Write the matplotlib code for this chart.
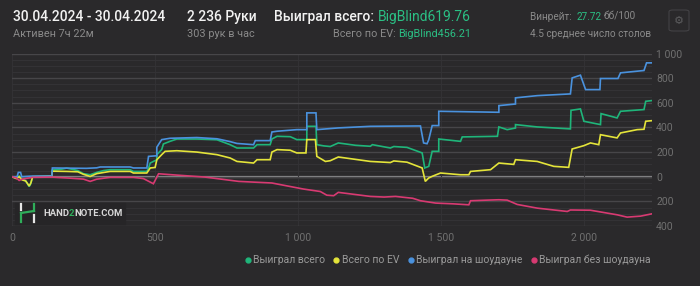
import matplotlib.pyplot as plt
from matplotlib.lines import Line2D
from matplotlib.patches import FancyBboxPatch, Rectangle
from matplotlib.ticker import MultipleLocator, FuncFormatter

# --- data (hand number, big blinds) ---
total_x = [0, 15, 25, 35, 47, 60, 65, 72, 139, 141, 175, 191, 230, 249, 273, 296, 320, 343, 413, 424,
           471, 477, 483, 506, 506, 523, 529, 552, 576, 646, 716, 762, 786, 844, 856, 902, 908, 926,
           972, 995, 1030, 1030, 1062, 1065, 1090, 1112, 1140, 1200, 1252, 1259, 1322, 1334, 1380,
           1433, 1442, 1456, 1468, 1491, 1491, 1567, 1573, 1696, 1701, 1730, 1759, 1759, 1835, 1951,
           1953, 1986, 1998, 2056, 2058, 2114, 2126, 2208, 2214, 2236]
total_y = [0, -10, 5, -20, -30, -80, -60, 0, 5, 55, 62, 70, 50, 25, 16, 35, 50, 57, 57, 43,
           43, 70, 111, 138, 179, 220, 266, 287, 306, 306, 300, 260, 233, 233, 260, 260, 306, 328,
           325, 301, 301, 409, 409, 260, 250, 245, 274, 255, 247, 260, 233, 245, 238,
           193, 71, 84, 206, 206, 306, 287, 323, 328, 404, 382, 395, 423, 404, 388,
           539, 550, 450, 423, 512, 477, 531, 545, 612, 618]

ev_x = [0, 15, 25, 35, 48, 60, 66, 72, 139, 141, 191, 230, 249, 273, 296, 343, 413, 424, 471, 477,
        483, 500, 506, 523, 535, 576, 646, 716, 762, 786, 844, 856, 902, 908, 926, 972, 995, 1027,
        1030, 1060, 1065, 1095, 1112, 1140, 1252, 1322, 1334, 1380, 1433, 1444, 1456, 1468, 1497,
        1567, 1596, 1602, 1672, 1701, 1753, 1759, 1835, 1893, 1945, 1957, 1998, 2021, 2050, 2056,
        2114, 2126, 2184, 2208, 2214, 2236]
ev_y = [0, -15, 0, -25, -35, -75, -50, 0, 5, 45, 43, 40, 20, 2, 25, 43, 43, 30, 30, 50,
        71, 75, 138, 179, 206, 211, 200, 179, 152, 124, 111, 138, 138, 200, 220, 215, 193, 193,
        301, 301, 165, 124, 130, 160, 124, 115, 128, 118, 71, -38, -10, 3, 30,
        16, 16, 43, 57, 111, 100, 138, 124, 84, 76, 225, 252, 274, 260, 341,
        315, 355, 382, 385, 450, 455]

sd_x = [0, 18, 22, 30, 34, 70, 139, 141, 260, 296, 308, 413, 424, 471, 477, 506, 506, 523, 552,
        646, 716, 762, 786, 844, 850, 902, 908, 926, 995, 1030, 1030, 1062, 1065, 1140, 1252, 1427,
        1438, 1450, 1456, 1468, 1491, 1491, 1701, 1701, 1759, 1759, 1835, 1951, 1957, 1986, 2004,
        2054, 2056, 2117, 2126, 2208, 2217, 2236]
sd_y = [0, 0, 35, 35, 0, 5, 5, 71, 68, 72, 79, 79, 71, 71, 165, 170, 240, 301, 312,
        318, 308, 285, 270, 260, 293, 293, 363, 369, 382, 382, 518, 518, 382, 396, 409, 412,
        274, 268, 300, 415, 415, 531, 523, 577, 590, 640, 658, 672, 802, 824, 707,
        707, 797, 797, 843, 862, 924, 924]

nsd_x = [0, 15, 25, 35, 60, 72, 139, 191, 249, 273, 296, 343, 424, 459, 494, 512, 564, 675, 792,
         908, 1018, 1077, 1100, 1124, 1140, 1252, 1300, 1340, 1400, 1427, 1480, 1540, 1596, 1602,
         1660, 1701, 1730, 1765, 1835, 1940, 1951, 2021, 2114, 2149, 2196, 2236]
nsd_y = [0, -10, -30, -20, -10, -5, -3, -10, -19, -38, -20, -5, -5, -15, -57, 24, 15, -3, -38,
         -51, -100, -120, -150, -154, -127, -160, -165, -160, -175, -195, -214, -220, -228, -195,
         -190, -187, -190, -225, -255, -282, -270, -272, -309, -328, -320, -301]

series = [
    ("Выиграл всего", total_x, total_y, "#1fb57a"),
    ("Всего по EV", ev_x, ev_y, "#e4e43a"),
    ("Выиграл на шоудауне", sd_x, sd_y, "#4a92de"),
    ("Выиграл без шоудауна", nsd_x, nsd_y, "#d83a72"),
]

BG = "#2a292b"
GREEN = "#2bbf84"
plt.rcParams["font.family"] = ["Roboto", "DejaVu Sans"]

W, H = 700, 286
fig = plt.figure(figsize=(W / 100, H / 100), dpi=100, facecolor=BG)
renderer = fig.canvas.get_renderer()


def fx(px):
    return px / W


def fy(py):
    return 1 - py / H


def chain(x, y, parts, gap=0):
    # draw text pieces one after another on a line, starting at pixel x
    for s, kw in parts:
        t = fig.text(fx(x), fy(y), s, va="center", **kw)
        x = t.get_window_extent(renderer).x1 + gap
    return x


ax = fig.add_axes([fx(12), fy(226), fx(652) - fx(12), fy(53.5) - fy(226)])
ax.set_facecolor(BG)
ax.set_xlim(0, 2236)
ax.set_ylim(-400, 1000)

ax.yaxis.set_major_locator(MultipleLocator(200))
ax.yaxis.set_minor_locator(MultipleLocator(50))
ax.xaxis.set_major_locator(MultipleLocator(500))
ax.grid(True, which="major", axis="y", color="#474649", lw=1)
ax.grid(True, which="minor", axis="y", color="#333235", lw=0.8)
ax.grid(True, which="major", axis="x", color="#323134", lw=0.8)
ax.axhline(0, color="#8d8d8f", lw=1.6, zorder=1)

for s in ax.spines.values():
    s.set_visible(False)
ax.yaxis.tick_right()
ax.tick_params(which="both", length=0, colors="#707070", labelsize=7.5)
ax.tick_params(axis="x", pad=5)
ax.tick_params(axis="y", pad=3)


def spaced(v, pos):
    return f"{abs(int(v)):,}".replace(",", " ")


ax.yaxis.set_major_formatter(FuncFormatter(spaced))
ax.xaxis.set_major_formatter(FuncFormatter(spaced))

for name, xs, ys, col in series:
    ax.plot(xs, ys, color=col, lw=1.2, label=name, zorder=3, solid_joinstyle="miter")

# watermark
fig.patches.append(Rectangle((fx(15), fy(224)), fx(125) - fx(15), fy(203) - fy(224),
                             transform=fig.transFigure, color="#262527", zorder=0))
logo = [
    ([21, 21], [204, 210], "#e6e6e6"),
    ([21, 21], [213, 222], "#2fae5a"),
    ([21, 34], [213, 211], "#2fae5a"),
    ([34, 34], [204, 211], "#2fae5a"),
    ([34, 34], [215, 222], "#e6e6e6"),
]
for xs, ys, c in logo:
    fig.add_artist(Line2D([fx(v) for v in xs], [fy(v) for v in ys], color=c, lw=1.6,
                          transform=fig.transFigure))
wm = dict(fontsize=6.8, fontweight="bold")
chain(43, 213, [("HAND", dict(color="#d8d8d8", **wm)),
                ("2", dict(color="#2fae5a", **wm)),
                ("NOTE.COM", dict(color="#d8d8d8", **wm))])

# header
big = dict(fontsize=10, color="#f2f2f2", fontweight="medium")
small = dict(fontsize=7.8, color="#8a8a8a")
right_small = dict(fontsize=7.2, color="#8a8a8a")
fig.text(fx(13), fy(17), "30.04.2024 - 30.04.2024", va="center", **big)
fig.text(fx(13), fy(34), "Активен 7ч 22м", va="center", **small)
fig.text(fx(187), fy(17), "2 236 Руки", va="center", **big)
fig.text(fx(187), fy(34), "303 рук в час", va="center", **small)
fig.text(fx(378), fy(17), "Выиграл всего: ", ha="right", va="center", **big)
fig.text(fx(471), fy(17), "BigBlind619.76", ha="right", fontsize=10, color=GREEN, va="center")
fig.text(fx(399), fy(34), "Всего по EV: ", ha="right", va="center", **small)
fig.text(fx(471), fy(34), "BigBlind456.21", ha="right", fontsize=7.8, color=GREEN, va="center")
chain(530, 17, [("Винрейт: ", right_small),
                ("27.72", dict(fontsize=7.2, color=GREEN)),
                ("бб/100", right_small)], gap=2)
fig.text(fx(530), fy(34), "4.5 среднее число столов", va="center", **right_small)

fig.patches.append(FancyBboxPatch((fx(669), fy(31)), fx(689) - fx(669), fy(10) - fy(31),
                                  boxstyle="round,pad=0,rounding_size=0.006",
                                  transform=fig.transFigure, facecolor="none",
                                  edgecolor="#434245", lw=0.8))
fig.text(fx(679), fy(20.5), "\u2699", family="DejaVu Sans", fontsize=8, color="#5c5c5e",
         ha="center", va="center")

# legend
handles = [Line2D([], [], ls="none", marker="o", ms=3.5, color=c) for _, _, _, c in series]
fig.legend(handles, [s[0] for s in series], loc="center right",
           bbox_to_anchor=(fx(651), fy(260)), ncol=4, frameon=False, fontsize=7.5,
           labelcolor="#9a9a9a", handlelength=0.5, handletextpad=0.3, columnspacing=0.8,
           borderpad=0, borderaxespad=0)

fig.savefig("out.png", dpi=100, facecolor=BG)
